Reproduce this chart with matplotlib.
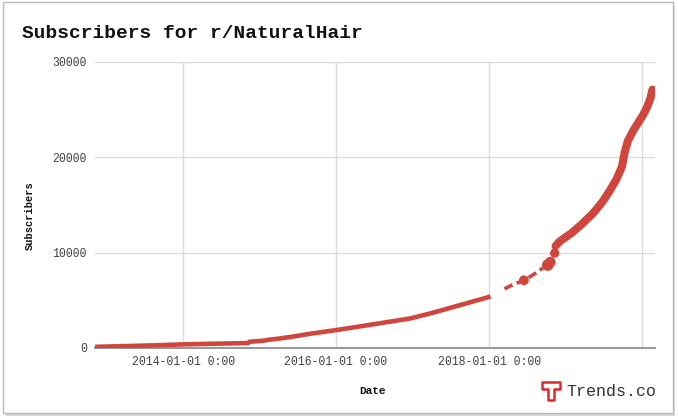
import numpy as np
import pandas as pd
import matplotlib
matplotlib.use("Agg")
import matplotlib.pyplot as plt
from matplotlib.patches import Rectangle, Polygon

# main series (NaN marks the gap in early 2018)
dates = ["2012-11-06", "2013-04-01", "2013-09-01", "2014-01-01", "2014-06-01",
         "2014-11-07", "2014-11-15", "2015-01-20", "2015-02-10", "2015-04-08",
         "2015-05-26", "2015-09-01", "2016-01-05", "2016-07-30", "2016-12-20",
         "2017-04-08", "2017-08-15", "2018-01-08", "2018-01-10"]
subs = [120, 200, 290, 380, 450,
        520, 660, 760, 860, 1000,
        1150, 1500, 1890, 2600, 3100,
        3700, 4500, 5400, np.nan]

# sparse stretch in 2018
sparse_dates = ["2018-03-15", "2018-04-20", "2018-06-16", "2018-08-01", "2018-09-15"]
sparse_subs = [6200, 6600, 7100, 7700, 8400]

# isolated big points
dot_dates = ["2018-06-16", "2018-10-08", "2018-10-20", "2018-11-10"]
dot_subs = [7100, 8700, 9000, 9950]

# dense late stretch
late_dates = ["2018-11-14", "2018-12-05", "2019-02-01", "2019-03-20", "2019-05-11",
              "2019-06-25", "2019-07-31", "2019-09-01", "2019-09-27", "2019-10-10",
              "2019-10-25", "2019-11-20", "2019-12-13", "2020-01-05", "2020-01-26",
              "2020-02-10", "2020-02-20"]
late_subs = [10700, 11200, 12100, 13000, 14100,
             15300, 16500, 17700, 19000, 20500,
             21700, 22800, 23600, 24400, 25300,
             26200, 27100]

xticks = ["2014-01-01", "2016-01-01", "2018-01-01", "2020-01-01"]
xtick_labels = ["2014-01-01 0:00", "2016-01-01 0:00", "2018-01-01 0:00", ""]
yticks = [0, 10000, 20000, 30000]

RED = "#d0463c"
MONO = "Liberation Mono"

fig = plt.figure(figsize=(6.78, 4.20), dpi=100)
W, H = 678, 420


def px(x, y):
    return (x / W, 1 - y / H)


# card frame with soft shadow
fig.patches.append(Rectangle(px(6, 416), 669 / W, 410 / H, transform=fig.transFigure,
                             facecolor="#d8d8d8", edgecolor="none", zorder=0))
fig.patches.append(Rectangle(px(3, 413), 670 / W, 411 / H, transform=fig.transFigure,
                             facecolor="white", edgecolor="#bbbbbb", lw=1, zorder=1))

ax = fig.add_axes([95 / W, 1 - 348 / H, 560 / W, 286 / H])
ax.set_facecolor("none")
ax.set_zorder(2)

d = pd.to_datetime(dates)
ax.plot(d, subs, color=RED, lw=3.3, solid_capstyle="butt", zorder=3)
ax.plot(pd.to_datetime(sparse_dates), sparse_subs, color=RED, lw=2.6,
        linestyle=(0, (2.5, 1.2)), zorder=3)
ax.plot(pd.to_datetime(late_dates), late_subs, color=RED, lw=5.8,
        solid_capstyle="round", zorder=3)
ax.scatter(pd.to_datetime(dot_dates), dot_subs, s=[50, 70, 60, 45],
           color=RED, edgecolors="none", zorder=4)

ax.set_xlim(pd.Timestamp("2012-11-06"), pd.Timestamp("2020-03-03"))
ax.set_ylim(0, 30000)
ax.set_xticks(pd.to_datetime(xticks))
ax.set_xticklabels(xtick_labels)
ax.set_yticks(yticks)
ax.set_yticklabels([str(v) for v in yticks])
ax.grid(True, color="#dcdcdc", lw=1)
ax.set_axisbelow(True)
ax.tick_params(length=0, labelsize=8.3, colors="#444444", pad=6)
for lab in ax.get_xticklabels() + ax.get_yticklabels():
    lab.set_family(MONO)
for s in ["top", "right", "left"]:
    ax.spines[s].set_visible(False)
ax.spines["bottom"].set_color("#999999")
ax.spines["bottom"].set_linewidth(1.5)

fig.text(*px(22, 33), "Subscribers for r/NaturalHair", family=MONO, weight="bold",
         fontsize=14, va="center", ha="left", color="#111111", zorder=5)
fig.text(*px(30, 216), "Subscribers", family=MONO, weight="bold", fontsize=7.5,
         rotation=90, va="center", ha="center", color="#111111", zorder=5)
fig.text(*px(373, 391), "Date", family=MONO, weight="bold", fontsize=8,
         va="center", ha="center", color="#111111", zorder=5)

# Trends.co logo
tpts = [px(542, 382), px(560, 382), px(560, 389), px(554, 389), px(554, 400),
        px(548, 400), px(548, 389), px(542, 389)]
fig.patches.append(Polygon(tpts, closed=True, transform=fig.transFigure,
                           facecolor="white", edgecolor="#e3262b", lw=1.8,
                           joinstyle="round", zorder=5))
fig.text(*px(566, 392), "Trends.co", family=MONO, fontsize=12,
         va="center", ha="left", color="#333333", zorder=5)

fig.savefig("out.png", dpi=100)
